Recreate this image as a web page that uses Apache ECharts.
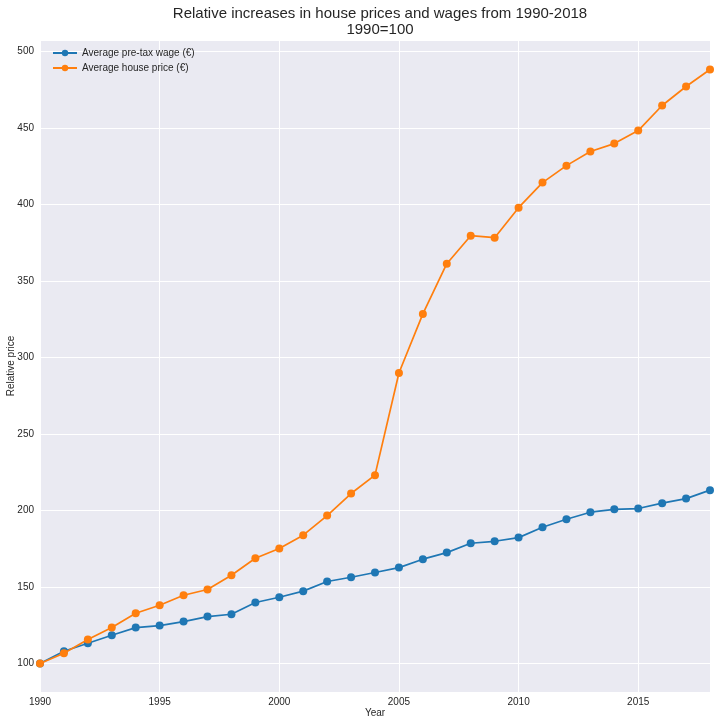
<!DOCTYPE html>
<html>
<head>
<meta charset="utf-8">
<script src="https://cdn.jsdelivr.net/npm/echarts@6/dist/echarts.min.js"></script>
<style>html,body{margin:0;padding:0;background:#fff}#c{width:717px;height:725px}</style>
</head>
<body>
<div id="c"></div>
<script>
const years = [1990,1991,1992,1993,1994,1995,1996,1997,1998,1999,2000,2001,2002,2003,2004,2005,2006,2007,2008,2009,2010,2011,2012,2013,2014,2015,2016,2017,2018];
const wage = [100,108.0,113.3,118.5,123.5,124.8,127.4,130.7,132.2,139.9,143.3,147.3,153.6,156.4,159.5,162.7,168.2,172.5,178.6,179.9,182.3,189.1,194.3,198.9,200.8,201.3,204.8,207.8,213.3];
const house = [100,106.7,115.7,123.5,132.9,138.1,144.6,148.4,157.7,168.8,175.2,183.9,196.7,211.1,223.1,289.9,328.5,361.3,379.6,378.3,397.9,414.3,425.4,434.6,439.8,448.3,464.7,477.1,488.2];
const seriesNames = ['Average pre-tax wage (€)','Average house price (€)'];

const font = 'Liberation Sans, Arial, sans-serif';
const chart = echarts.init(document.getElementById('c'), null, {renderer:'canvas'});
chart.setOption({
  animation:false,
  backgroundColor:'#ffffff',
  title:{
    text:'Relative increases in house prices and wages from 1990-2018\n1990=100',
    left:375, top:1, textAlign:'center',
    textStyle:{fontFamily:font, fontSize:15, fontWeight:'normal', color:'#262626', lineHeight:16}
  },
  legend:{
    orient:'vertical', left:47, top:43, itemGap:5, itemWidth:24, itemHeight:8,
    textStyle:{fontFamily:font, fontSize:10, color:'#262626'},
    data:seriesNames
  },
  grid:{left:40, right:7, top:40, bottom:33, show:true, backgroundColor:'#EAEAF2', borderWidth:0, containLabel:false, outerBoundsMode:'none'},
  xAxis:{
    type:'value', min:1990, max:2018, interval:5,
    name:'Year', nameLocation:'middle', nameGap:16, nameMoveOverlap:false,
    nameTextStyle:{fontFamily:font, fontSize:10, color:'#262626'},
    axisLine:{show:false}, axisTick:{show:false},
    axisLabel:{fontFamily:font, fontSize:10, color:'#262626', margin:5, showMaxLabel:false, formatter:v=>String(v)},
    splitLine:{show:true, lineStyle:{color:'#ffffff', width:1}}
  },
  yAxis:{
    type:'value', min:81.4, max:507.5, splitNumber:8, minInterval:50, maxInterval:50,
    name:'Relative price', nameLocation:'middle', nameGap:24, nameRotate:90, nameMoveOverlap:false,
    nameTextStyle:{fontFamily:font, fontSize:10, color:'#262626'},
    axisLine:{show:false}, axisTick:{show:false},
    axisLabel:{fontFamily:font, fontSize:10, color:'#262626', margin:6, showMinLabel:false, showMaxLabel:false, formatter:v=>String(v)},
    splitLine:{show:true, lineStyle:{color:'#ffffff', width:1}}
  },
  series:[
    {name:seriesNames[0], type:'line', data:years.map((y,i)=>[y,wage[i]]), symbol:'circle', symbolSize:8,
     itemStyle:{color:'#1f77b4'}, lineStyle:{color:'#1f77b4', width:1.7}, z:2},
    {name:seriesNames[1], type:'line', data:years.map((y,i)=>[y,house[i]]), symbol:'circle', symbolSize:8,
     itemStyle:{color:'#ff7f0e'}, lineStyle:{color:'#ff7f0e', width:1.7}, z:3}
  ]
});
</script>
</body>
</html>
